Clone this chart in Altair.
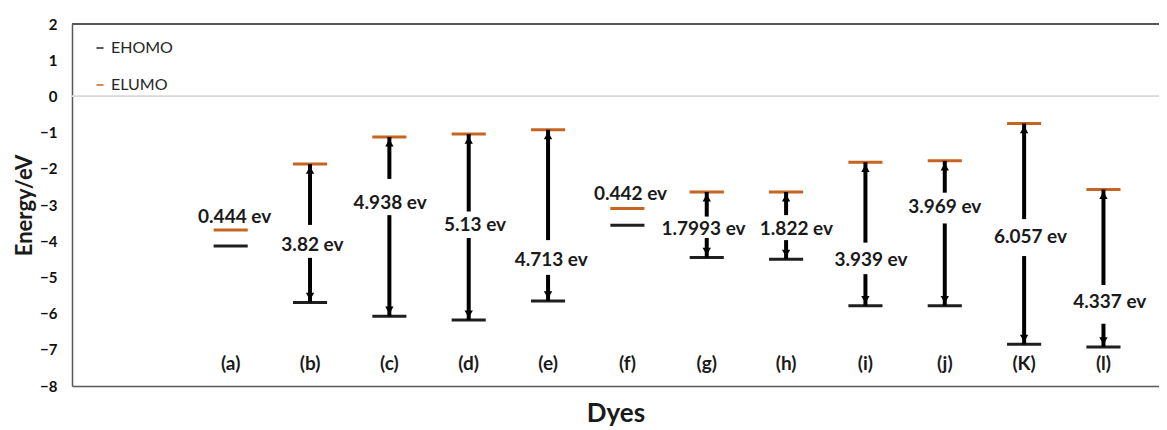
import altair as alt
import pandas as pd

# ---- data ----
dyes = ["(a)", "(b)", "(c)", "(d)", "(e)", "(f)", "(g)", "(h)", "(i)", "(j)", "(K)", "(l)"]
e_homo = [-4.13, -5.69, -6.07, -6.18, -5.65, -3.56, -4.45, -4.50, -5.78, -5.78, -6.85, -6.92]
e_lumo = [-3.69, -1.87, -1.12, -1.04, -0.92, -3.10, -2.64, -2.64, -1.82, -1.78, -0.75, -2.57]
gap_text = ["0.444 ev", "3.82 ev", "4.938 ev", "5.13 ev", "4.713 ev", "0.442 ev",
            "1.7993 ev", "1.822 ev", "3.939 ev", "3.969 ev", "6.057 ev", "4.337 ev"]
label_y = [-3.32, -4.10, -2.95, -3.55, -4.52, -2.70, -3.66, -3.66, -4.52, -3.05, -3.88, -5.67]
label_shift = [0.05, 0.03, 0.01, 0.08, 0.04, 0.04, -0.04, 0.13, 0.07, 0.0, 0.08, 0.08]
# where the arrow shafts stop around the gap label (None: no arrow)
arrow_up_from = [None, -3.55, -2.28, -3.18, -3.97, None, -3.32, -3.28, -4.04, -2.66, -3.39, -5.21]
arrow_down_from = [None, -4.46, -3.28, -3.91, -4.93, None, -3.91, -3.97, -4.91, -3.51, -4.41, -6.28]
series_names = ["EHOMO", "ELUMO"]
series_colors = ["#1f1f1f", "#c5651f"]
y_ticks = list(range(-8, 3))

pos = list(range(len(dyes)))

levels = pd.DataFrame(
    [{"pos": p, "dye": d, "series": "EHOMO", "energy": h} for p, d, h in zip(pos, dyes, e_homo)]
    + [{"pos": p, "dye": d, "series": "ELUMO", "energy": l} for p, d, l in zip(pos, dyes, e_lumo)]
)
info = pd.DataFrame({
    "pos": pos, "dye": dyes, "homo": e_homo, "lumo": e_lumo, "gap": gap_text,
    "label_y": label_y, "label_shift": label_shift,
    "up_from": arrow_up_from, "down_from": arrow_down_from,
})
arrows = info.dropna(subset=["up_from"])

FONT = "Lato"
xscale = alt.Scale(domain=[-2, 11.7], nice=False, zero=False)
yscale = alt.Scale(domain=[-8, 2], nice=False, zero=False)

x_axis = alt.Axis(labels=False, ticks=False, grid=False, title="Dyes",
                  titleFont=FONT, titleFontSize=26, titleFontWeight="bold",
                  titleColor="#1a1a1a", titlePadding=14,
                  domainColor="#595959", domainWidth=1.5)
y_axis = alt.Axis(values=y_ticks, ticks=False, grid=False, title="Energy/eV",
                  labelFont=FONT, labelFontSize=15, labelFontWeight="bold",
                  labelColor="#111111", labelPadding=15,
                  titleFont=FONT, titleFontSize=22, titleFontWeight="bold",
                  titleColor="#1a1a1a", titlePadding=3,
                  domainColor="#595959", domainWidth=1.5)


def X(field):
    return alt.X(field, scale=xscale, axis=x_axis)


def Y(field):
    return alt.Y(field, scale=yscale, axis=y_axis)


zero_line = alt.Chart(info).mark_rule(color="#d9d9d9", strokeWidth=1).encode(
    x=alt.value(0), x2=alt.value(1087), y=alt.datum(0, scale=yscale, axis=y_axis))
top_line = alt.Chart(info).mark_rule(color="#595959", strokeWidth=1.5).encode(
    x=alt.value(0), x2=alt.value(1087), y=alt.datum(2, scale=yscale, axis=y_axis))

level_marks = alt.Chart(levels).transform_calculate(
    xl="datum.pos - 0.215", xr="datum.pos + 0.215"
).mark_rule(strokeWidth=3).encode(
    x=X("xl:Q"),
    x2="xr:Q",
    y=Y("energy:Q"),
    color=alt.Color("series:N",
                    scale=alt.Scale(domain=series_names, range=series_colors),
                    legend=alt.Legend(title=None, orient="none", legendX=20, legendY=16,
                                      symbolType="stroke", symbolSize=50,
                                      symbolStrokeWidth=1.5, labelFont=FONT,
                                      labelFontSize=16, labelColor="#262626",
                                      labelOffset=3, rowPadding=21)),
)

up_shaft = alt.Chart(arrows).mark_rule(color="black", strokeWidth=4).encode(
    x=X("pos:Q"), y=Y("up_from:Q"), y2="lumo:Q",
)
down_shaft = alt.Chart(arrows).mark_rule(color="black", strokeWidth=4).encode(
    x=X("pos:Q"), y=Y("down_from:Q"), y2="homo:Q",
)
up_head = alt.Chart(arrows).mark_point(shape="triangle-up", filled=True, color="black",
                                       size=70, opacity=1, yOffset=6).encode(
    x=X("pos:Q"), y=Y("lumo:Q"),
)
down_head = alt.Chart(arrows).mark_point(shape="triangle-down", filled=True, color="black",
                                         size=70, opacity=1, yOffset=-6).encode(
    x=X("pos:Q"), y=Y("homo:Q"),
)

gap_labels = alt.Chart(info).transform_calculate(
    lx="datum.pos + datum.label_shift"
).mark_text(font=FONT, fontSize=19, fontWeight="bold", color="#1a1a1a",
            align="center", baseline="middle").encode(
    x=X("lx:Q"), y=Y("label_y:Q"), text="gap:N",
)

dye_labels = alt.Chart(info).mark_text(font=FONT, fontSize=19, fontWeight="bold",
                                       color="#1a1a1a", align="center",
                                       baseline="middle").encode(
    x=X("pos:Q"),
    y=alt.datum(-7.4, scale=yscale, axis=y_axis),
    text="dye:N",
)

chart = alt.layer(
    zero_line, top_line, level_marks, up_shaft, down_shaft, up_head, down_head,
    gap_labels, dye_labels
).properties(
    width=1087, height=362,
    autosize=alt.AutoSizeParams(type="none"),
    padding={"left": 64, "top": 16, "right": 0, "bottom": 44},
).configure_view(stroke=None).configure(background="white")

chart.save("out.html", embed_options={"renderer": "svg", "actions": False})
